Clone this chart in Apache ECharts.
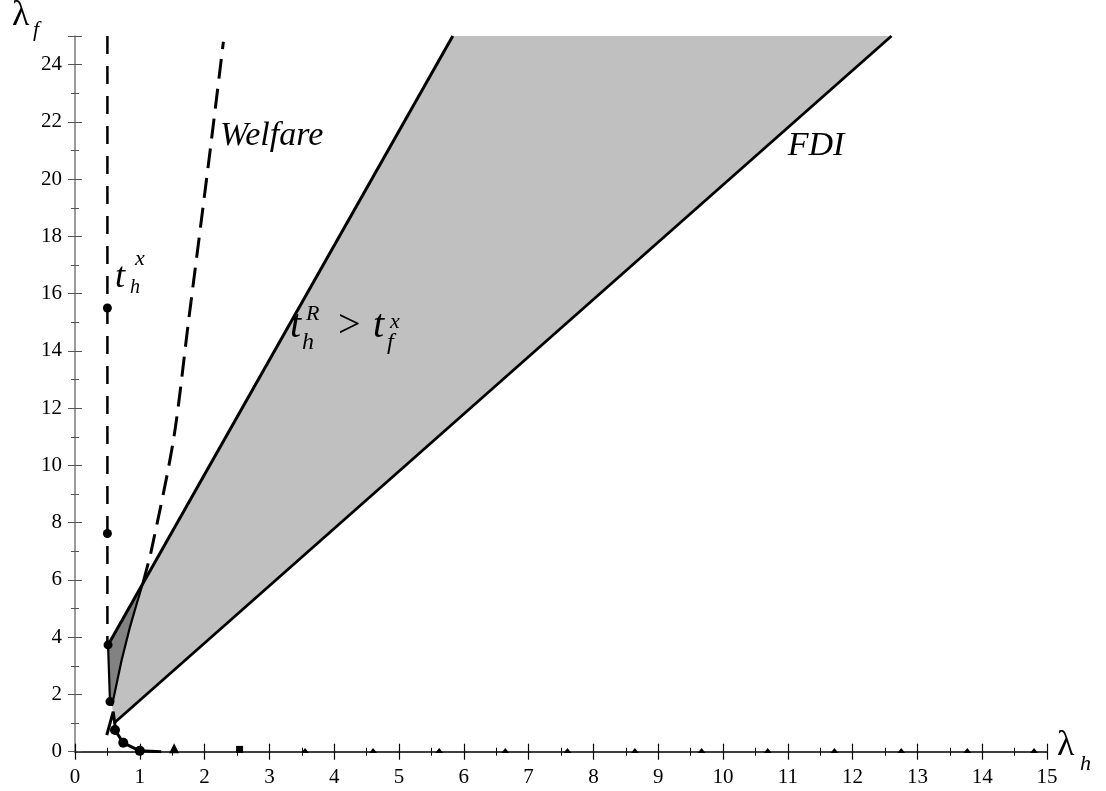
<!DOCTYPE html>
<html>
<head>
<meta charset="utf-8">
<script src="https://cdn.jsdelivr.net/npm/echarts@6/dist/echarts.min.js"></script>
<style>
html,body{margin:0;padding:0;background:#fff;}
#c{width:1106px;height:791px;}
</style>
</head>
<body>
<div id="c"></div>
<script>
// ---- data (λh, λf) ----
const xRange = [0, 15];
const yRange = [0, 25];
// vertical t_h^x dashed line
const thxDashed = [[0.5, 25], [0.5, 3.73]];
// solid left segment of t_h^x
const thxSolid = [[0.51, 3.73], [0.54, 1.75]];
// marked points on t_h^x
const thxPoints = [[0.5, 15.5], [0.5, 7.62], [0.51, 3.73], [0.54, 1.75]];
// small Λ-shaped piece
const lambdaPiece = [[0.49, 0.58], [0.59, 1.4], [0.62, 0.87]];
// bottom curve with circle markers
const bottomCurve = [[0.617, 0.76], [0.745, 0.31], [1.0, 0.03], [1.33, 0.0]];
const bottomCircles = [[0.617, 0.76], [0.745, 0.31], [1.0, 0.03]];
// marks along the λh axis
const triMarks = [[1.53, 0.12]];
const squareMarks = [[2.54, 0.08]];
const smallMarks = [[3.55, 0.04], [4.6, 0.04], [5.62, 0.04], [6.64, 0.04], [7.6, 0.04], [8.64, 0.04],
  [9.67, 0.04], [10.69, 0.04], [11.72, 0.04], [12.75, 0.04], [13.77, 0.04], [14.8, 0.04]];
// welfare curve: solid lower part and dashed upper part
const welfareSolid = [[0.57, 1.6], [0.72, 3.2], [0.85, 4.37], [0.95, 5.15], [1.05, 5.9]];
const welfareDashed = [[1.05, 5.9], [1.18, 7.05], [1.52, 10.9], [1.75, 15.0], [2.08, 20.9], [2.29, 24.8]];
// upper boundary of shaded area
const upperLine = [[0.51, 3.73], [5.83, 25]];
// FDI line
const fdiLine = [[0.617, 1.03], [12.6, 25]];
// shaded regions
const lightRegion = [[0.6, 1.25], [0.617, 1.03], [12.6, 25], [5.83, 25], [1.05, 5.9], [0.95, 5.15],
  [0.85, 4.37], [0.72, 3.2], [0.57, 1.6]];
const darkRegion = [[0.51, 3.73], [1.05, 5.9], [0.95, 5.15], [0.85, 4.37], [0.72, 3.2], [0.57, 1.6], [0.54, 1.75]];

const SERIF = '"Liberation Serif", "Times New Roman", serif';

const chart = echarts.init(document.getElementById('c'), null, {renderer: 'canvas'});

function polySeries(data, color, z) {
  return {
    type: 'custom', data: [0], z: z, silent: true,
    renderItem: function (params, api) {
      return {
        type: 'polygon',
        shape: {points: data.map(p => api.coord(p))},
        style: {fill: color, stroke: null}
      };
    }
  };
}
function lineSeries(data, width, dash, z, smooth) {
  return {
    type: 'line', data: data, symbol: 'none', z: z, smooth: smooth || false,
    lineStyle: {color: '#000', width: width, type: dash || 'solid'},
    animation: false
  };
}
function scatterSeries(data, symbol, size, z) {
  return {
    type: 'scatter', data: data, symbol: symbol, symbolSize: size, z: z,
    itemStyle: {color: '#000', opacity: 1}, animation: false
  };
}

const xBase = {
  type: 'value', min: xRange[0], max: xRange[1], interval: 1,
  position: 'bottom', offset: 0,
  splitLine: {show: false}
};
const yBase = {
  type: 'value', min: yRange[0], max: yRange[1], interval: 2,
  position: 'left', offset: 0,
  splitLine: {show: false}
};

chart.setOption({
  animation: false,
  backgroundColor: '#fff',
  textStyle: {fontFamily: SERIF},
  grid: {left: 75, right: 59, top: 36, bottom: 39.3, containLabel: false},
  xAxis: [
    Object.assign({}, xBase, {
      axisLine: {show: true, lineStyle: {color: '#000', width: 1.5}},
      axisTick: {show: true, inside: false, length: 8, lineStyle: {color: '#000', width: 1.2}},
      minorTick: {show: true, splitNumber: 2, length: 4, lineStyle: {color: '#000', width: 1}},
      axisLabel: {show: true, margin: 15, color: '#000', fontFamily: SERIF, fontSize: 21}
    }),
    Object.assign({}, xBase, {
      axisLine: {show: false},
      axisTick: {show: true, inside: true, length: 8, lineStyle: {color: '#000', width: 1.2}},
      minorTick: {show: true, splitNumber: 2, length: 4, lineStyle: {color: '#000', width: 1}},
      axisLabel: {show: false}
    })
  ],
  yAxis: [
    Object.assign({}, yBase, {
      axisLine: {show: true, lineStyle: {color: '#7a7a7a', width: 1.5}},
      axisTick: {show: true, inside: false, length: 7, lineStyle: {color: '#555', width: 1}},
      minorTick: {show: true, splitNumber: 2, length: 4, lineStyle: {color: '#555', width: 1}},
      axisLabel: {show: true, margin: 13, color: '#000', fontFamily: SERIF, fontSize: 21,
        showMaxLabel: false,
        formatter: function (v) { return v % 2 === 0 ? String(v) : ''; }}
    }),
    Object.assign({}, yBase, {
      axisLine: {show: false},
      axisTick: {show: true, inside: true, length: 7, lineStyle: {color: '#555', width: 1}},
      minorTick: {show: true, splitNumber: 2, length: 4, lineStyle: {color: '#555', width: 1}},
      axisLabel: {show: false}
    })
  ],
  series: [
    polySeries(lightRegion, '#c0c0c0', 1),
    polySeries(darkRegion, '#828282', 2),
    lineSeries(thxDashed, 2.5, [18, 12], 5),
    lineSeries(welfareDashed, 3, [20, 10], 5, 0.3),
    lineSeries(welfareSolid, 2.2, 'solid', 5),
    lineSeries(upperLine, 3, 'solid', 6),
    lineSeries(fdiLine, 2.8, 'solid', 6),
    lineSeries(thxSolid, 2.2, 'solid', 6),
    lineSeries(lambdaPiece, 3, 'solid', 6),
    lineSeries(bottomCurve, 3, 'solid', 6),
    scatterSeries(thxPoints, 'circle', 9, 7),
    scatterSeries(bottomCircles, 'circle', 10, 7),
    scatterSeries(triMarks, 'triangle', 10, 7),
    scatterSeries(squareMarks, 'rect', 7, 7),
    scatterSeries(smallMarks, 'triangle', [8, 5], 7)
  ]
});

// ---- text annotations ----
// each piece: [text, dx, dBaseline, size, italic]
const annotations = [
  {at: [2.238, 21.1], pieces: [['Welfare', 0, 0, 34, true]]},
  {at: [11.0, 20.76], pieces: [['FDI', 0, 0, 34, true]]},
  {at: [0.617, 16.14], pieces: [['t', 0, 0, 36, true], ['x', 20, -23, 22, true], ['h', 15, 5, 20, true]]},
  {at: [3.318, 14.37], pieces: [
    ['t', 0, 0, 40, true], ['R', 16, -19, 22, true], ['h', 12, 11, 24, true],
    ['>', 48, 0, 40, false],
    ['t', 83, 0, 40, true], ['x', 100, -11, 22, true], ['f', 97, 11, 24, true]
  ]}
];
// axis names (pixel positions)
const axisNames = [
  {px: [12, 28], pieces: [['λ', 0, 0, 36, false], ['f', 21, 10, 22, true]]},
  {px: [1057, 758], pieces: [['λ', 0, 0, 36, false], ['h', 23, 14, 22, true]]}
];

function makeTexts(origin, pieces) {
  return pieces.map(function (p) {
    return {
      type: 'text', silent: true, z: 20,
      x: origin[0] + p[1],
      y: origin[1] + p[2] - 0.34 * p[3],
      style: {
        text: p[0], fill: '#000',
        fontFamily: SERIF, fontSize: p[3], fontStyle: p[4] ? 'italic' : 'normal',
        align: 'left', verticalAlign: 'middle'
      }
    };
  });
}
let graphics = [];
annotations.forEach(function (a) {
  const o = chart.convertToPixel({xAxisIndex: 0, yAxisIndex: 0}, a.at);
  graphics = graphics.concat(makeTexts(o, a.pieces));
});
axisNames.forEach(function (a) {
  graphics = graphics.concat(makeTexts(a.px, a.pieces));
});
chart.setOption({graphic: graphics});
</script>
</body>
</html>
